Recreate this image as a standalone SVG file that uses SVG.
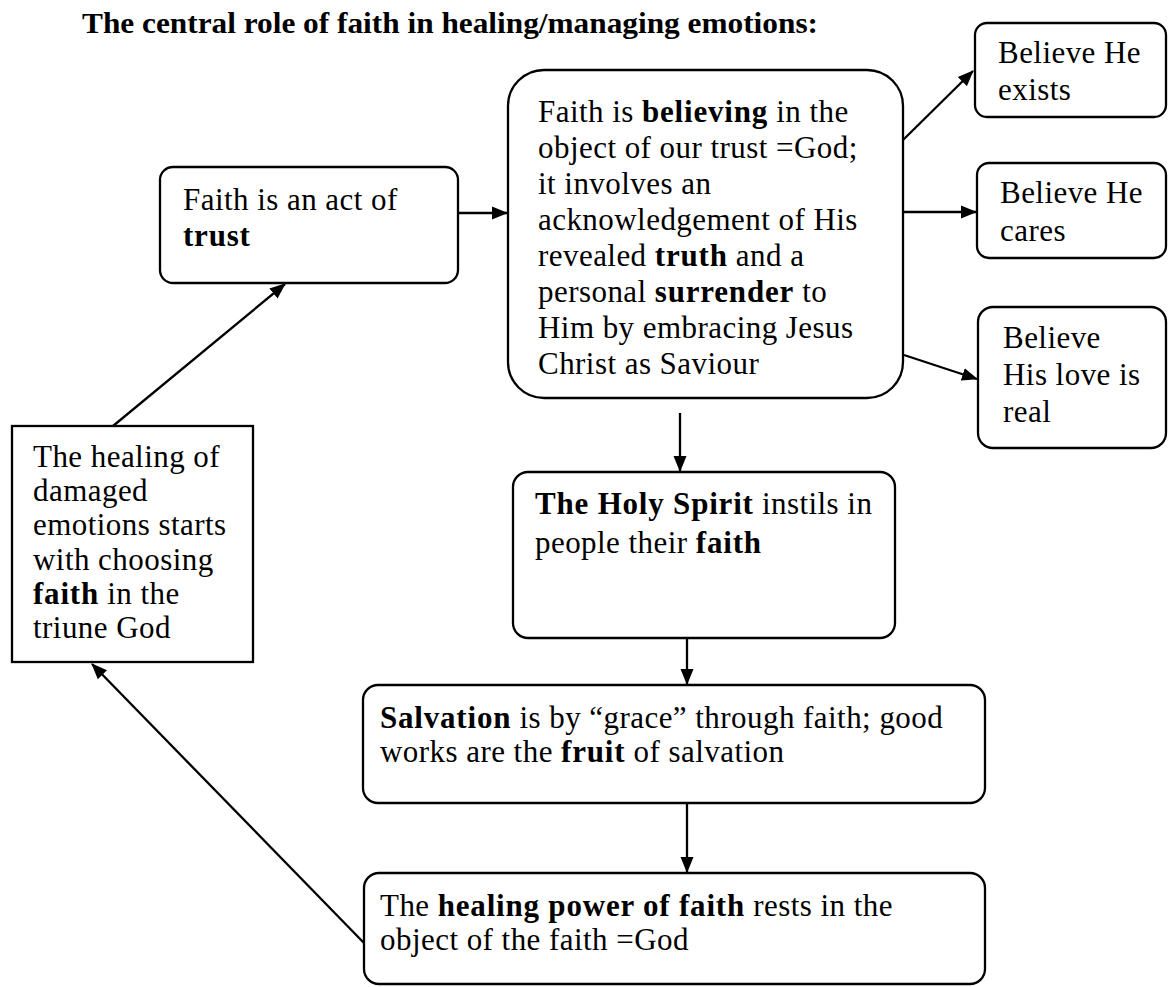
<svg xmlns="http://www.w3.org/2000/svg" width="1168" height="987" viewBox="0 0 1168 987">
<style>
text{font-family:"Liberation Serif","Times New Roman",serif;font-size:31px;letter-spacing:0.45px;fill:#000}
.b{font-weight:bold;letter-spacing:0.8px}
.title{font-size:29.5px;font-weight:bold;letter-spacing:0}
.box{fill:#fff;stroke:#000;stroke-width:2.3}
.con{stroke:#000;stroke-width:2.3;fill:none}
</style>
<defs>
<marker id="ah" markerUnits="userSpaceOnUse" markerWidth="17" markerHeight="14" refX="15" refY="7" orient="auto">
<path d="M0,0.5 L16,7 L0,13.5 Z" fill="#000"/>
</marker>
</defs>
<rect width="1168" height="987" fill="#fff"/>
<text class="title" x="82" y="33" textLength="736" lengthAdjust="spacingAndGlyphs">The central role of faith in healing/managing emotions:</text>

<g id="connectors">
<line class="con" x1="458" y1="213" x2="507" y2="213" marker-end="url(#ah)"/>
<line class="con" x1="113" y1="426" x2="285" y2="284" marker-end="url(#ah)"/>
<line class="con" x1="903" y1="140" x2="973" y2="71" marker-end="url(#ah)"/>
<line class="con" x1="903" y1="212" x2="976" y2="212" marker-end="url(#ah)"/>
<line class="con" x1="904" y1="355" x2="977" y2="379" marker-end="url(#ah)"/>
<line class="con" x1="680" y1="413" x2="680" y2="471" marker-end="url(#ah)"/>
<line class="con" x1="687" y1="638" x2="687" y2="684" marker-end="url(#ah)"/>
<line class="con" x1="687" y1="803" x2="687" y2="872" marker-end="url(#ah)"/>
<line class="con" x1="364" y1="943" x2="92" y2="664" marker-end="url(#ah)"/>
</g>

<g id="trust">
<rect class="box" x="160" y="167" width="298" height="116" rx="13"/>
<text x="183" y="210">Faith is an act of</text>
<text x="183" y="246"><tspan class="b">trust</tspan></text>
</g>

<g id="believing">
<rect class="box" x="508" y="70" width="395" height="328" rx="36"/>
<text x="538" y="122">Faith is <tspan class="b">believing</tspan> in the</text>
<text x="538" y="158">object of our trust =God;</text>
<text x="538" y="194">it involves an</text>
<text x="538" y="230">acknowledgement of His</text>
<text x="538" y="266">revealed <tspan class="b">truth</tspan> and a</text>
<text x="538" y="302">personal <tspan class="b">surrender</tspan> to</text>
<text x="538" y="338">Him by embracing Jesus</text>
<text x="538" y="374">Christ as Saviour</text>
</g>

<g id="exists">
<rect class="box" x="975" y="23" width="191" height="94" rx="12"/>
<text x="998" y="63">Believe He</text>
<text x="998" y="100">exists</text>
</g>

<g id="cares">
<rect class="box" x="977" y="163" width="189" height="95" rx="12"/>
<text x="1000" y="203">Believe He</text>
<text x="1000" y="241">cares</text>
</g>

<g id="love">
<rect class="box" x="978" y="307" width="188" height="141" rx="15"/>
<text x="1003" y="348">Believe</text>
<text x="1003" y="385">His love is</text>
<text x="1003" y="422">real</text>
</g>

<g id="healing-start">
<rect class="box" x="12" y="426" width="241" height="236"/>
<text x="33" y="467">The healing of</text>
<text x="33" y="501.2">damaged</text>
<text x="33" y="535.4">emotions starts</text>
<text x="33" y="569.6">with choosing</text>
<text x="33" y="603.8"><tspan class="b">faith</tspan> in the</text>
<text x="33" y="638">triune God</text>
</g>

<g id="holy-spirit">
<rect class="box" x="513" y="472" width="382" height="166" rx="15"/>
<text x="535" y="514"><tspan class="b">The Holy Spirit</tspan> instils in</text>
<text x="535" y="553">people their <tspan class="b">faith</tspan></text>
</g>

<g id="salvation">
<rect class="box" x="363" y="685" width="622" height="118" rx="15"/>
<text x="380" y="728"><tspan class="b">Salvation</tspan> is by “grace” through faith; good</text>
<text x="380" y="762">works are the <tspan class="b">fruit</tspan> of salvation</text>
</g>

<g id="healing-power">
<rect class="box" x="364" y="873" width="621" height="111" rx="15"/>
<text x="380" y="916">The <tspan class="b">healing power of faith</tspan> rests in the</text>
<text x="380" y="950">object of the faith =God</text>
</g>
</svg>
